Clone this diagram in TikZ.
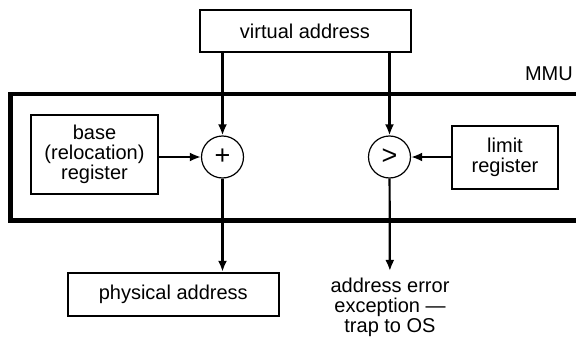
\documentclass[tikz,border=0pt]{standalone}
\usepackage{fontspec}
\setmainfont{Liberation Sans}
\usetikzlibrary{arrows.meta}

\begin{document}
\begin{tikzpicture}[x=1pt, y=-1pt,
  every node/.style={font=\fontsize{20}{20}\selectfont, inner sep=0pt, align=center},
  box/.style={draw, line width=2pt},
  op/.style={draw, circle, line width=1.2pt, minimum size=42pt, font=\fontsize{27}{27}\selectfont},
  arr/.style={line width=2.2pt, -{Latex[length=11pt, width=9pt]}}]
\useasboundingbox (0,0) rectangle (576,337);
% MMU frame
\draw[line width=4.5pt] (10.5,94) rectangle (590,220.5);
\node[anchor=east] (mmulabel) at (573,74) {MMU};
% boxes
\node[box, minimum width=211pt, minimum height=42pt] (va) at (305,31) {virtual address};
\node[box, minimum width=127.5pt, minimum height=79pt] (base) at (94.5,154.7) {base\\(relocation)\\register};
\node[box, minimum width=106.5pt, minimum height=63.5pt] (limit) at (505,157.5) {limit\\register};
\node[box, minimum width=211pt, minimum height=43pt] (phys) at (173.3,294.3) {physical address};
\node[inner sep=7pt] (err) at (390,307.5) {address error\\exception ---\\trap to OS};
% operators
\node[op] (plus) at (222.5,157) {+};
\node[op] (gt) at (389.5,157) {>};
% connections
\draw[arr] (va.south -| plus) -- (plus);
\draw[arr] (va.south -| gt) -- (gt);
\draw[arr] (base.east |- plus) -- (plus);
\draw[arr] (limit.west |- gt) -- (gt);
\draw[arr] (plus) -- (phys.north -| plus);
\draw[arr] (gt) -- (err);
\end{tikzpicture}
\end{document}
